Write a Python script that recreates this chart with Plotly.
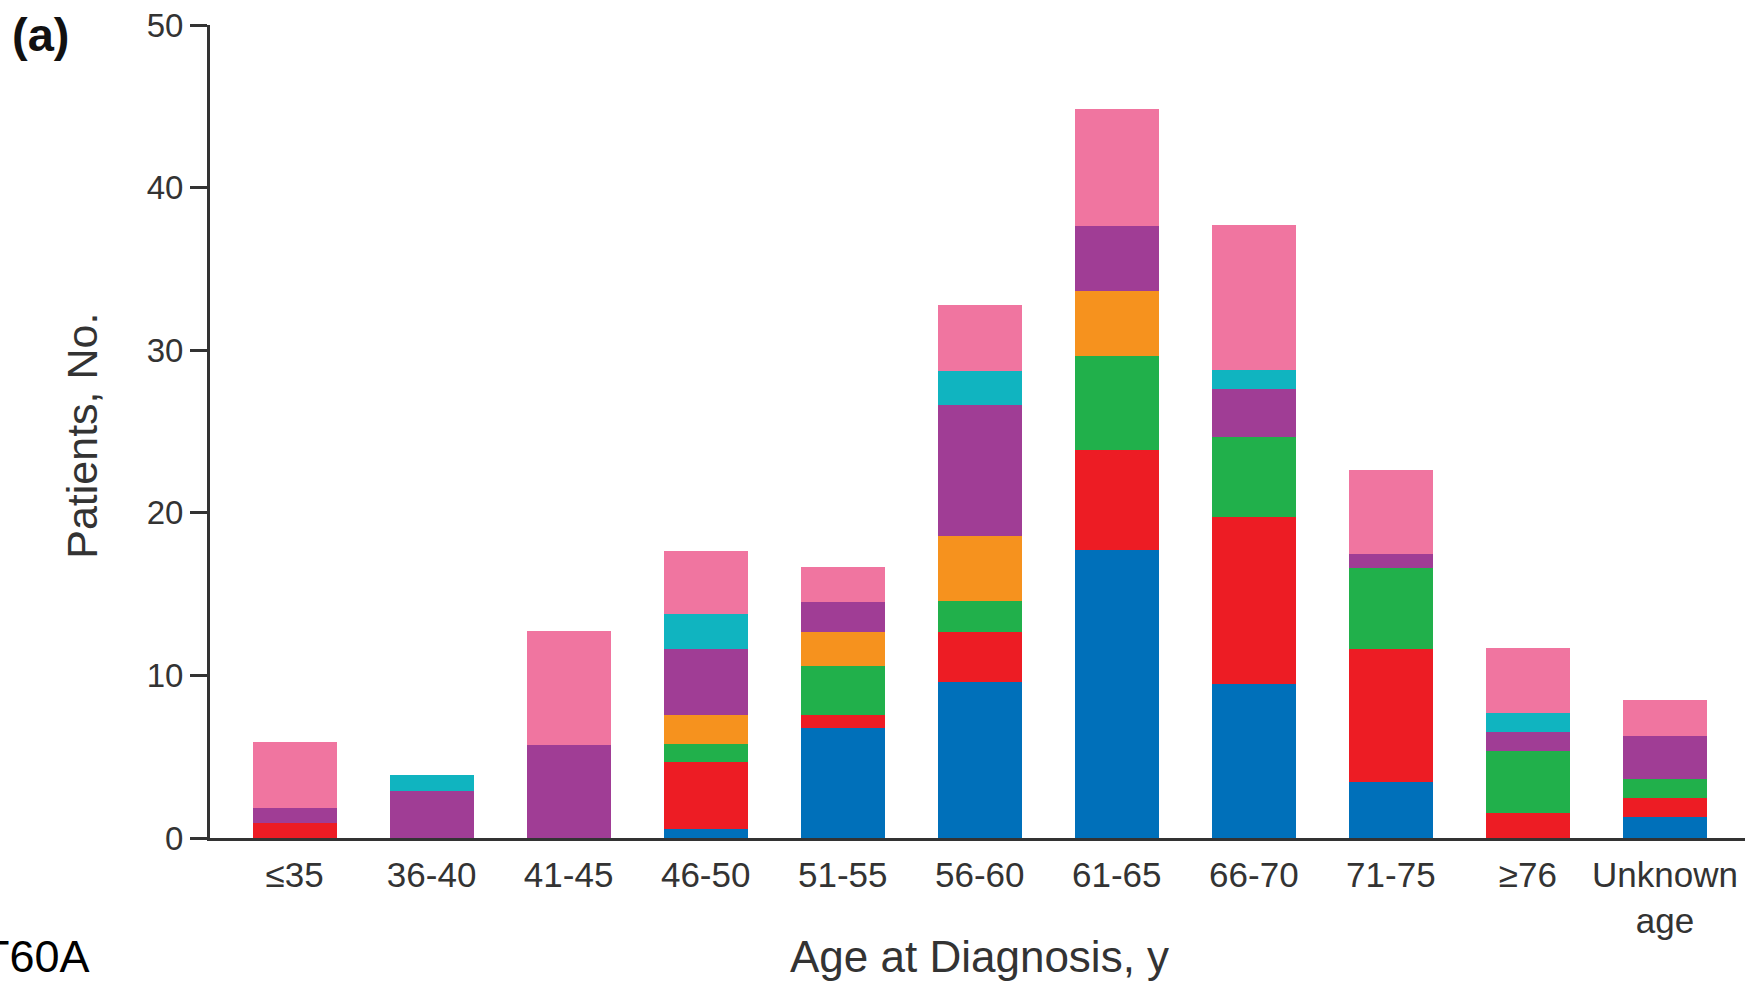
import plotly.graph_objects as go

# ---- data ----
categories = ["≤35", "36-40", "41-45", "46-50", "51-55", "56-60", "61-65",
              "66-70", "71-75", "≥76", "Unknown<br>age"]

blue   = [0.00, 0.00, 0.00, 0.57, 6.74, 9.58, 17.72, 9.49, 3.47, 0.00, 1.32]
red    = [0.92, 0.00, 0.00, 4.08, 0.85, 3.09, 6.14, 10.26, 8.16, 1.54, 1.15]
green  = [0.00, 0.00, 0.00, 1.12, 2.96, 1.93, 5.81, 4.90, 4.99, 3.82, 1.17]
orange = [0.00, 0.00, 0.00, 1.82, 2.12, 3.97, 3.99, 0.00, 0.00, 0.00, 0.00]
purple = [0.92, 2.91, 5.69, 4.05, 1.82, 8.07, 3.96, 2.99, 0.86, 1.19, 2.65]
teal   = [0.00, 0.96, 0.00, 2.12, 0.00, 2.06, 0.00, 1.12, 0.00, 1.11, 0.00]
pink   = [4.06, 0.00, 7.07, 3.90, 2.17, 4.08, 7.24, 8.92, 5.14, 4.01, 2.19]

y_ticks = [0, 10, 20, 30, 40, 50]

series = [
    ("blue", blue, "#0070BA"),
    ("red", red, "#ED1C24"),
    ("green", green, "#21B04B"),
    ("orange", orange, "#F6921E"),
    ("purple", purple, "#A03D95"),
    ("teal", teal, "#10B4C0"),
    ("pink", pink, "#F075A0"),
]

FONT = "Liberation Sans, Arial, Helvetica, sans-serif"
AXIS_COLOR = "#333333"

fig = go.Figure()
for name, vals, col in series:
    fig.add_trace(go.Bar(
        x=categories, y=vals, name=name,
        marker=dict(color=col, line=dict(width=0)),
        showlegend=False,
    ))

fig.update_layout(
    width=1750, height=982,
    barmode="stack",
    bargap=0.387,
    plot_bgcolor="white", paper_bgcolor="white",
    margin=dict(l=210, r=5, t=25, b=144, pad=0, autoexpand=False),
    font=dict(family=FONT, color=AXIS_COLOR),
)

fig.update_xaxes(
    type="category",
    range=[-0.617, 10.584],
    automargin=False,
    showline=True, linewidth=3, linecolor=AXIS_COLOR,
    showgrid=False, zeroline=False,
    ticks="", ticklabelstandoff=4,
    tickfont=dict(size=35, color=AXIS_COLOR, family=FONT),
)

fig.update_yaxes(
    range=[0, 50],
    tickvals=y_ticks,
    automargin=False,
    showline=True, linewidth=3, linecolor=AXIS_COLOR,
    showgrid=False, zeroline=False,
    ticks="outside", ticklen=17, tickwidth=3, tickcolor=AXIS_COLOR,
    tickfont=dict(size=33, color=AXIS_COLOR, family=FONT),
)

# axis titles
fig.add_annotation(
    text="Age at Diagnosis, y", xref="paper", yref="paper",
    x=0.5016, y=-0.146, xanchor="center", yanchor="middle",
    showarrow=False, font=dict(size=44, color=AXIS_COLOR, family=FONT),
)
fig.add_annotation(
    text="Patients, No.", xref="paper", yref="paper", textangle=-90,
    x=-0.0834, y=0.4947, xanchor="center", yanchor="middle",
    showarrow=False, font=dict(size=43, color=AXIS_COLOR, family=FONT),
)

fig.add_annotation(
    text="<b>(a)</b>", xref="paper", yref="paper",
    x=-0.1107, y=0.9877, xanchor="center", yanchor="middle",
    showarrow=False, font=dict(size=47, color="#111111", family=FONT),
)
fig.add_annotation(
    text="T60A", xref="paper", yref="paper",
    x=-0.0769, y=-0.146, xanchor="right", yanchor="middle",
    showarrow=False, font=dict(size=45, color="#000000", family=FONT),
)

fig.write_html("out.html", config={"displayModeBar": False},
               post_script="document.body.style.margin='0';")
